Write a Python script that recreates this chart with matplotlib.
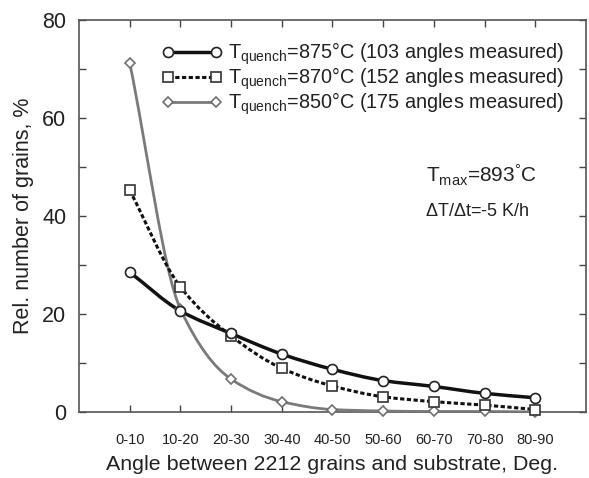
from matplotlib import pyplot as plt
from matplotlib.lines import Line2D
from matplotlib.path import Path
from matplotlib.patches import PathPatch
import numpy as np

plt.rcParams['font.family'] = ['Liberation Sans', 'DejaVu Sans']
plt.rcParams['mathtext.default'] = 'regular'

# data
categories = ['0-10', '10-20', '20-30', '30-40', '40-50', '50-60', '60-70', '70-80', '80-90']
q875 = [28.5, 20.6, 16.0, 11.8, 8.7, 6.4, 5.2, 3.8, 2.9]
q870 = [45.2, 25.5, 15.5, 8.9, 5.3, 3.1, 2.1, 1.4, 0.5]
q850 = [71.2, 21.0, 6.7, 2.1, 0.5, 0.2, 0.1, 0.1, 0.0]
labels = [r'T$_{quench}$=875°C (103 angles measured)',
          r'T$_{quench}$=870°C (152 angles measured)',
          r'T$_{quench}$=850°C (175 angles measured)']


def smooth_path(xs, ys):
  # monotone cubic through the points, drawn as bezier segments
  xs, ys = np.asarray(xs, float), np.asarray(ys, float)
  d = np.diff(ys) / np.diff(xs)
  m = np.zeros_like(ys)
  m[0], m[-1] = d[0], d[-1]
  for i in range(1, len(ys) - 1):
    if d[i - 1] * d[i] > 0:
      m[i] = 2 / (1 / d[i - 1] + 1 / d[i])
  verts, codes = [(xs[0], ys[0])], [Path.MOVETO]
  for i in range(len(xs) - 1):
    h = xs[i + 1] - xs[i]
    verts += [(xs[i] + h / 3, ys[i] + m[i] * h / 3),
              (xs[i + 1] - h / 3, ys[i + 1] - m[i + 1] * h / 3),
              (xs[i + 1], ys[i + 1])]
    codes += [Path.CURVE4] * 3
  return Path(verts, codes)


fig = plt.figure(figsize=(5.89, 4.78), dpi=100)
ax = fig.add_axes([0.1341, 0.1381, 0.8608, 0.8211])
x = np.arange(len(categories))

styles = [
  dict(color='#111111', lw=2.5, ls='-', marker='o', ms=7.2, mec='#222222'),
  dict(color='#111111', lw=2.2, ls=(0, (1.4, 0.8)), marker='s', ms=6.5, mec='#333333'),
  dict(color='#7a7a7a', lw=2.0, ls='-', marker='D', ms=5.2, mec='#707070'),
]
series = [q875, q870, q850]
handles = []
for ys, st, z in zip(series, styles, [5, 4, 3]):
  ax.add_patch(PathPatch(smooth_path(x, ys), fill=False, ec=st['color'],
                         lw=st['lw'], ls=st['ls'], zorder=z))
  ax.plot(x, ys, ls='none', marker=st['marker'], ms=st['ms'], mfc='white',
          mec=st['mec'], mew=1.2, zorder=z + 3, clip_on=False)
  handles.append(Line2D([], [], color=st['color'], lw=st['lw'], ls=st['ls'],
                        marker=st['marker'], ms=st['ms'], mfc='white',
                        mec=st['mec'], mew=1.2))

ax.set_xlim(-1, 9)
ax.set_ylim(0, 80)
ax.set_xticks(x)
ax.set_xticklabels(categories, fontsize=10.5)
ax.set_yticks([0, 20, 40, 60, 80])
ax.set_yticks([10, 30, 50, 70], minor=True)
ax.tick_params(axis='y', which='major', labelsize=15.5, pad=9)
ax.tick_params(axis='x', which='major', pad=15)
ax.tick_params(which='both', direction='in', length=5, width=1.0, top=True,
               right=True, color='#444444', labelcolor='#222222')
for sp in ax.spines.values():
  sp.set_color('#555555')
  sp.set_linewidth(1.2)

ax.set_xlabel('Angle between 2212 grains and substrate, Deg.', fontsize=15.4,
              color='#222222', labelpad=6)
ax.set_ylabel('Rel. number of grains, %', fontsize=15.5, color='#222222',
              labelpad=6)

leg = ax.legend(handles, labels, loc='upper right', bbox_to_anchor=(0.972, 0.966),
                borderaxespad=0, frameon=False, numpoints=2, handlelength=3.0,
                handletextpad=0.3, labelspacing=-0.08, fontsize=14.3)
for t in leg.get_texts():
  t.set_color('#222222')

ax.text(0.684, 0.605, r'T$_{max}$=893$^{°}$C', transform=ax.transAxes,
        fontsize=15, color='#222222', va='center')
ax.text(0.682, 0.51, r'$\Delta$T/$\Delta$t=-5 K/h', transform=ax.transAxes,
        fontsize=13, color='#222222', va='center')

plt.savefig('out.png', dpi=100)
